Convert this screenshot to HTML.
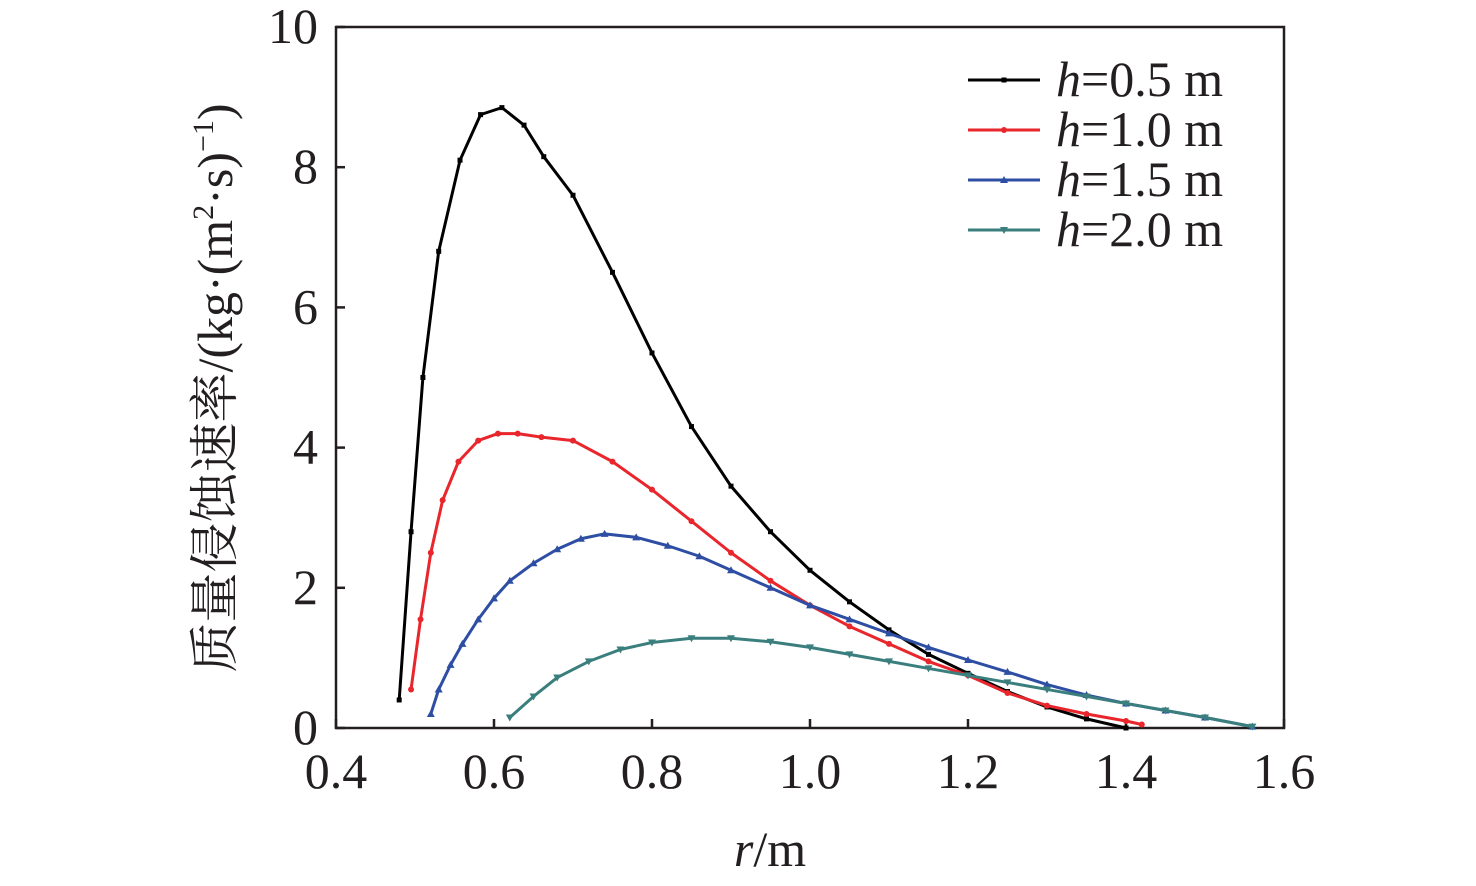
<!DOCTYPE html>
<html><head><meta charset="utf-8"><style>
body{margin:0;background:#fff}
text{font-family:"Liberation Serif","Noto Serif CJK SC",serif;fill:#231f20}
</style></head><body>
<svg id="chart" width="1476" height="881" viewBox="0 0 1476 881" xmlns="http://www.w3.org/2000/svg">
<g id="plot"></g>
</svg>
<script>
const xTicks=[0.4,0.6,0.8,1.0,1.2,1.4,1.6];
const xTickLabels=["0.4","0.6","0.8","1.0","1.2","1.4","1.6"];
const yTicks=[0,2,4,6,8,10];
const yTickLabels=["0","2","4","6","8","10"];
const seriesNames=["h=0.5 m","h=1.0 m","h=1.5 m","h=2.0 m"];
const x05=[0.48,0.495,0.51,0.53,0.557,0.583,0.61,0.638,0.663,0.7,0.75,0.8,0.85,0.9,0.95,1.0,1.05,1.1,1.15,1.2,1.25,1.3,1.35,1.4];
const y05=[0.4,2.8,5.0,6.8,8.1,8.75,8.85,8.6,8.15,7.6,6.5,5.35,4.3,3.45,2.8,2.25,1.8,1.4,1.05,0.78,0.52,0.3,0.13,0.0];
const x10=[0.495,0.507,0.52,0.535,0.555,0.58,0.605,0.63,0.66,0.7,0.75,0.8,0.85,0.9,0.95,1.0,1.05,1.1,1.15,1.2,1.25,1.3,1.35,1.4,1.42];
const y10=[0.55,1.55,2.5,3.25,3.8,4.1,4.2,4.2,4.15,4.1,3.8,3.4,2.95,2.5,2.1,1.75,1.45,1.2,0.95,0.75,0.5,0.32,0.2,0.1,0.05];
const x15=[0.52,0.53,0.545,0.56,0.58,0.6,0.62,0.65,0.68,0.71,0.74,0.78,0.82,0.86,0.9,0.95,1.0,1.05,1.1,1.15,1.2,1.25,1.3,1.35,1.4,1.45,1.5,1.56];
const y15=[0.2,0.55,0.9,1.2,1.55,1.85,2.1,2.35,2.55,2.7,2.77,2.72,2.6,2.45,2.25,2.0,1.75,1.55,1.35,1.15,0.97,0.8,0.62,0.47,0.35,0.25,0.15,0.02];
const x20=[0.62,0.65,0.68,0.72,0.76,0.8,0.85,0.9,0.95,1.0,1.05,1.1,1.15,1.2,1.25,1.3,1.35,1.4,1.45,1.5,1.56];
const y20=[0.15,0.45,0.72,0.95,1.12,1.22,1.28,1.28,1.23,1.15,1.05,0.95,0.85,0.75,0.65,0.55,0.45,0.35,0.25,0.15,0.02];
const X0=336,X1=1284,Y0=728,Y1=27;
const sx=v=>X0+(v-0.4)/1.2*(X1-X0);
const sy=v=>Y0-v/10*(Y0-Y1);
const NS="http://www.w3.org/2000/svg";
const g=document.getElementById('plot');
function mk(t,a,txt){const e=document.createElementNS(NS,t);for(const k in a)e.setAttribute(k,a[k]);if(txt!==undefined)e.textContent=txt;g.appendChild(e);return e;}
let e=mk('rect',{x:X0,y:Y1,width:X1-X0,height:Y0-Y1,fill:'none',stroke:'#231f20','stroke-width':2.5});


xTicks.forEach((v,i)=>{
 const t=mk('line',{x1:sx(v),x2:sx(v),y1:Y0,y2:Y0-9,stroke:'#231f20','stroke-width':2.5});
 
 
 const l=mk('text',{x:sx(v),y:788,'text-anchor':'middle','font-size':50},xTickLabels[i]);
 
 
});
yTicks.forEach((v,i)=>{
 const t=mk('line',{x1:X0,x2:X0+9,y1:sy(v),y2:sy(v),stroke:'#231f20','stroke-width':2.5});
 
 
 const l=mk('text',{x:318,y:sy(v)+16,'text-anchor':'end','font-size':50},yTickLabels[i]);
 
 
});
const xt=mk('text',{x:770,y:866,'text-anchor':'middle','font-size':50});
xt.innerHTML='<tspan font-style="italic">r</tspan>/m';


const yt=mk('text',{x:0,y:0,'text-anchor':'middle','font-size':50,transform:'translate(232,388) rotate(-90)'});
yt.innerHTML='质量侵蚀速率/(kg·(m<tspan font-size="30" dy="-19">2</tspan><tspan dy="19">·s)</tspan><tspan font-size="30" dy="-19">−1</tspan><tspan dy="19">)</tspan>';


function marker(type,x,y,c){
 if(type==='sq')return mk('rect',{x:x-2.5,y:y-2.5,width:5,height:5,fill:c});
 if(type==='ci')return mk('circle',{cx:x,cy:y,r:3,fill:c});
 if(type==='up')return mk('polygon',{points:`${x},${y-4} ${x-4},${y+3} ${x+4},${y+3}`,fill:c});
 return mk('polygon',{points:`${x},${y+4} ${x-4},${y-3} ${x+4},${y-3}`,fill:c});
}
const series=[[x05,y05,'#000000','sq','series-h-0-5'],[x10,y10,'#e8262b','ci','series-h-1-0'],[x15,y15,'#2e4ea3','up','series-h-1-5'],[x20,y20,'#3a7f7d','dn','series-h-2-0']];
series.forEach((s,si)=>{
 const p=mk('polyline',{points:s[0].map((x,i)=>sx(x)+','+sy(s[1][i])).join(' '),fill:'none',stroke:s[2],'stroke-width':3,'stroke-linejoin':'round'});
 
 
 s[0].forEach((x,i)=>{const m=marker(s[3],sx(x),sy(s[1][i]),s[2]);
  
  });
 const ly=80+si*50;
 const ll=mk('line',{x1:968,x2:1040,y1:ly,y2:ly,stroke:s[2],'stroke-width':3});
 
 
 const lm=marker(s[3],1004,ly,s[2]);
 
 
 const lt=mk('text',{x:1056,y:ly+16,'font-size':50});
 lt.innerHTML='<tspan font-style="italic">h</tspan>'+seriesNames[si].slice(1);
 
 
});
</script>
</body></html>
